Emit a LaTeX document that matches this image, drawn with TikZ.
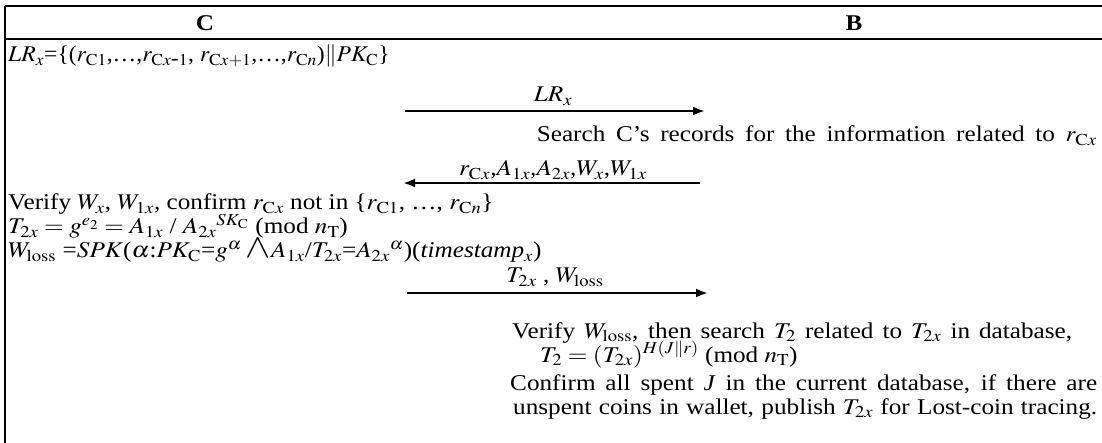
\documentclass[tikz,border=0pt]{standalone}
\usepackage{mathptmx}
\usepackage{graphicx}
\usepackage{fontspec}
\setmainfont{Liberation Serif}
\usetikzlibrary{arrows.meta}
\newcommand{\hs}[1]{\scalebox{1.12}[1]{#1}}
\newcommand{\hsw}[2]{\scalebox{1.12}[1]{\makebox[\dimexpr #1pt*100/112\relax][s]{#2}}}
\begin{document}
\begin{tikzpicture}[x=1pt,y=-1pt,
  txt/.style={inner sep=0pt,font=\fontsize{22.5}{24}\selectfont},
  hdr/.style={inner sep=0pt,font=\fontsize{22.5}{24}\selectfont\bfseries},
  msg/.style={line width=2.4pt,-{Latex[length=12pt,width=9pt]}},
  rule/.style={line width=1.8pt}]
\useasboundingbox (0,0) rectangle (1102,443);
% frame
\coordinate (tl) at (5,6); \coordinate (tr) at (1102,6);
\coordinate (hl) at (5,39); \coordinate (hr) at (1102,39);
\coordinate (bl) at (5,443);
\draw[rule] (tl) -- (tr);
\draw[rule] (hl) -- (hr);
\draw[line width=2.6pt] (tl) -- (bl);
\node[hdr,anchor=base] (hC) at (205,31) {\hs{C}};
\node[hdr,anchor=base] (hB) at (854,31) {\hs{B}};
% C lines
\node[txt,anchor=base west] (l1) at (8,62) {\scalebox{1.05}[1]{$LR_x$=\{($r_{\mathrm{C}1}$,\ldots,$r_{\mathrm{C}x\mbox{-}1}$, $r_{\mathrm{C}x+1}$,\ldots,$r_{\mathrm{C}n}$)$\|$$PK_{\mathrm{C}}$\}}};
% message 1
\coordinate (a1s) at (405,111); \coordinate (a1e) at (705,111);
\draw[msg] (a1s) -- (a1e);
\node[txt,anchor=base] (m1) at (553,102) {\hs{$LR_x$}};
\node[txt,anchor=base east] (s1) at (1097,142) {\hsw{560}{Search C’s records for the information related to $r_{\mathrm{C}x}$}};
% message 2
\coordinate (a2s) at (700,183); \coordinate (a2e) at (403,183);
\draw[msg] (a2s) -- (a2e);
\node[txt,anchor=base] (m2) at (553,176) {\hs{$r_{\mathrm{C}x}$,$A_{1x}$,$A_{2x}$,$W_x$,$W_{1x}$}};
\node[txt,anchor=base west] (c1) at (8,210) {\hs{Verify $W_x$, $W_{1x}$, confirm $r_{\mathrm{C}x}$ not in \{$r_{\mathrm{C}1}$, \ldots, $r_{\mathrm{C}n}$\}}};
\node[txt,anchor=base west] (c2) at (8,234) {\hs{$T_{2x}=g^{e_2}=A_{1x}$ / ${A_{2x}}^{SK_{\mathrm{C}}}$ (mod $n_{\mathrm{T}}$)}};
\node[txt,anchor=base west] (c3) at (8,258) {\hs{$W_{\mathrm{loss}}$ =$SPK$($\alpha$:$PK_{\mathrm{C}}$=$g^{\alpha}$\,\scalebox{1.5}{$\wedge$}$A_{1x}$/$T_{2x}$=${A_{2x}}^{\alpha}$)(\textit{timestamp}$_x$)}};
% message 3
\coordinate (a3s) at (407,293); \coordinate (a3e) at (708,293);
\draw[msg] (a3s) -- (a3e);
\node[txt,anchor=base] (m3) at (555,283) {\hs{$T_{2x}$ , $W_{\mathrm{loss}}$}};
% B block
\node[txt,anchor=base west] (b1) at (512,338) {\hsw{560}{Verify $W_{\mathrm{loss}}$, then search $T_2$ related to $T_{2x}$ in database,}};
\node[txt,anchor=base west] (b2) at (540,362) {\hs{$T_2=(T_{2x})^{H(J\|r)}$ (mod $n_{\mathrm{T}}$)}};
\node[txt,anchor=base west] (b3) at (510,390) {\hsw{587}{Confirm all spent \textit{J} in the current database, if there are}};
\node[txt,anchor=base west] (b4) at (513,414) {\hsw{584}{unspent coins in wallet, publish $T_{2x}$ for Lost-coin tracing.}};
\end{tikzpicture}
\end{document}
